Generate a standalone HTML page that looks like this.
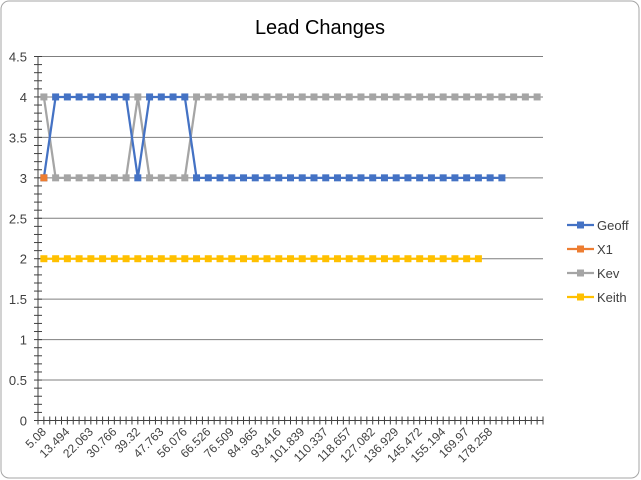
<!DOCTYPE html>
<html><head><meta charset="utf-8"><style>
html,body{margin:0;padding:0;background:#fff;}
svg{display:block;font-family:"Liberation Sans",Calibri,sans-serif;}
</style></head><body>
<svg id="chart" width="641" height="480" viewBox="0 0 641 480">
<rect x="1" y="1" width="638" height="477" rx="8" fill="#fff" stroke="#a6a6a6" stroke-width="1"/>
<text x="320" y="34" text-anchor="middle" font-size="20" fill="#000">Lead Changes</text>
<g id="grid"></g><g id="axes"></g><g id="series"></g><g id="legend"></g>
</svg>
<script>
const xLabels=["5.08","13.494","22.063","30.766","39.32","47.763","56.076","66.526","76.509","84.965","93.416","101.839","110.337","118.657","127.082","136.929","145.472","155.194","169.97","178.258"];
const categoryCount=43;
const yTicks=[0,0.5,1,1.5,2,2.5,3,3.5,4,4.5];
const geoff=[3,4,4,4,4,4,4,4,3,4,4,4,4,3,3,3,3,3,3,3,3,3,3,3,3,3,3,3,3,3,3,3,3,3,3,3,3,3,3,3];
const x1=[3];
const kev=[4,3,3,3,3,3,3,3,4,3,3,3,3,4,4,4,4,4,4,4,4,4,4,4,4,4,4,4,4,4,4,4,4,4,4,4,4,4,4,4,4,4,4];
const keith=[2,2,2,2,2,2,2,2,2,2,2,2,2,2,2,2,2,2,2,2,2,2,2,2,2,2,2,2,2,2,2,2,2,2,2,2,2,2];
const seriesNames=["Geoff","X1","Kev","Keith"];
const seriesColors=["#4472c4","#ed7d31","#a5a5a5","#ffc000"];

const NS="http://www.w3.org/2000/svg";
const L=38,R=543,T=56.5,B=420.5,yMax=4.5;
const step=(R-L)/categoryCount;
const xPos=i=>L+step*(i+0.5);
const yPos=v=>B-(v/yMax)*(B-T);
function mk(tag,attrs,parent){const e=document.createElementNS(NS,tag);for(const k in attrs)e.setAttribute(k,attrs[k]);parent.appendChild(e);return e;}
const grid=document.getElementById('grid'),axes=document.getElementById('axes'),ser=document.getElementById('series'),leg=document.getElementById('legend');

yTicks.forEach(v=>{
  if(v>0){const g=mk('line',{x1:L,x2:R,y1:yPos(v),y2:yPos(v),stroke:'#7f7f7f','stroke-width':1},grid);
  
  }
  const t=mk('text',{x:L-11,y:yPos(v)+5,'text-anchor':'end','font-size':13,fill:'#404040'},axes);
  
  
  t.textContent=v;
});
for(let v=0;v<=45;v++){const y=yPos(v/10);const tk=mk('line',{x1:L-4,x2:L+4,y1:y,y2:y,stroke:'#404040','stroke-width':1},axes);
  
  }
const ya=mk('line',{x1:L,x2:L,y1:T,y2:B,stroke:'#404040','stroke-width':1},axes);


const xa=mk('line',{x1:L,x2:R,y1:B,y2:B,stroke:'#404040','stroke-width':1},axes);


for(let i=0;i<=categoryCount*2;i++){const x=L+step*i/2;const tk=mk('line',{x1:x,x2:x,y1:B-4,y2:B+4,stroke:'#404040','stroke-width':1},axes);
  
  }
xLabels.forEach((s,j)=>{const x=xPos(j*2)+3,y=B+12;
  const t=mk('text',{x:x,y:y,'text-anchor':'end','font-size':12,fill:'#404040',transform:`rotate(-45 ${x} ${y})`},axes);
  
  
  t.textContent=s;});

function drawSeries(d,k){
  const g=mk('g',{},ser);
  
  
  if(d.length>1){const p=mk('polyline',{points:d.map((v,i)=>xPos(i)+','+yPos(v)).join(' '),fill:'none',stroke:seriesColors[k],'stroke-width':2.25},g);
    
    }
  d.forEach((v,i)=>{const m=mk('rect',{x:xPos(i)-3.5,y:yPos(v)-3.5,width:7,height:7,fill:seriesColors[k]},g);
    
    });
}
drawSeries(keith,3);drawSeries(kev,2);drawSeries(geoff,0);drawSeries(x1,1);

seriesNames.forEach((n,k)=>{const y=225+k*24;
  const g=mk('g',{},leg);
  
  
  mk('line',{x1:567,x2:594,y1:y,y2:y,stroke:seriesColors[k],'stroke-width':2.25},g);
  mk('rect',{x:577,y:y-3.5,width:7,height:7,fill:seriesColors[k]},g);
  const t=mk('text',{x:597,y:y+5,'font-size':13,fill:'#404040'},g);t.textContent=n;});
</script>
</body></html>
